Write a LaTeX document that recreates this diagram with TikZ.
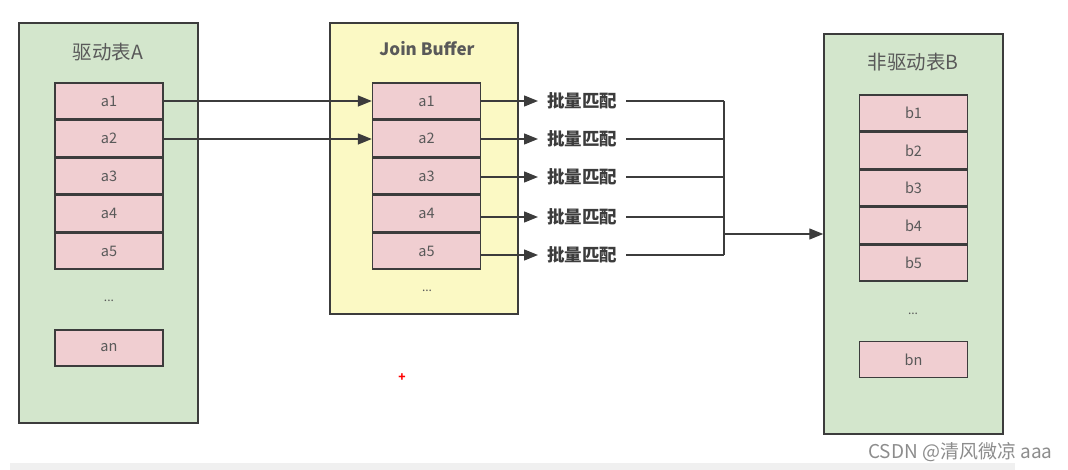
\documentclass[tikz,border=0pt]{standalone}
\usepackage{fontspec}
\setmainfont{Noto Sans CJK SC}
\usepackage{tikz}
\usetikzlibrary{positioning,arrows.meta}

\definecolor{tblgreen}{HTML}{D3E6CC}
\definecolor{bufyellow}{HTML}{FBF9C4}
\definecolor{rowpink}{HTML}{F0CED1}
\definecolor{edge}{HTML}{3C3C3C}
\definecolor{mark}{HTML}{8C8C8C}

\begin{document}
\begin{tikzpicture}[x=1pt, y=-1pt,
      tbl/.style={rectangle, draw=edge, fill=tblgreen, line width=1.5pt, minimum width=179pt, minimum height=400pt},
      buf/.style={rectangle, draw=edge, fill=bufyellow, line width=1.5pt, minimum width=188pt, minimum height=291pt},
      row/.style={rectangle, draw=edge, fill=rowpink, line width=1.4pt, minimum width=108pt, minimum height=36.1pt, font=\fontsize{14.5}{16}\selectfont, text=edge!85},
      title/.style={font=\fontsize{19.5}{22}\selectfont, text=edge!85},
      dots/.style={font=\fontsize{12}{14}\selectfont, text=edge!85},
      match/.style={inner xsep=9pt, font=\fontsize{17.5}{20}\selectfont\bfseries, text=edge},
      link/.style={draw=edge, line width=1.4pt},
      arr/.style={link, -{Triangle[length=14pt, width=11pt]}},
    ]
    \useasboundingbox (0,0) rectangle (1068,470);
    \fill[black!6] (10,463) rectangle (1015,470);

    % Tables
    \node[tbl] (tabA) at (108.5,223) {};
    \node[buf] (jbuf) at (424,168.5) {};
    \node[tbl] (tabB) at (913.5,234) {};

    \node[title] at (108,52) {驱动表A};
    \node[title, font=\fontsize{17}{20}\selectfont\bfseries] at (427,49) {Join Buffer};
    \node[title] at (913,62) {非驱动表B};

    % Rows of A
    \node[row] (a1) at (109,101) {a1};
    \node[row, below=0pt of a1] (a2) {a2};
    \node[row, below=0pt of a2] (a3) {a3};
    \node[row, below=0pt of a3] (a4) {a4};
    \node[row, below=0pt of a4] (a5) {a5};
    \node[dots] at (109,301) {...};
    \node[row] (an) at (109,348) {an};

    % Rows of the buffer
    \node[row] (j1) at (426.5,101) {a1};
    \node[row, below=0pt of j1] (j2) {a2};
    \node[row, below=0pt of j2] (j3) {a3};
    \node[row, below=0pt of j3] (j4) {a4};
    \node[row, below=0pt of j4] (j5) {a5};
    \node[dots] at (427,291) {...};

    % Rows of B
    \node[row] (b1) at (913.5,113) {b1};
    \node[row, below=0pt of b1] (b2) {b2};
    \node[row, below=0pt of b2] (b3) {b3};
    \node[row, below=0pt of b3] (b4) {b4};
    \node[row, below=0pt of b4] (b5) {b5};
    \node[dots] at (913,314) {...};
    \node[row] (bn) at (913.5,359.5) {bn};

    % Matches
    \node[match, anchor=west] (m1) at (538,101) {批量匹配};
    \node[match, anchor=west] (m2) at (538,139) {批量匹配};
    \node[match, anchor=west] (m3) at (538,177) {批量匹配};
    \node[match, anchor=west] (m4) at (538,217) {批量匹配};
    \node[match, anchor=west] (m5) at (538,255) {批量匹配};

    \coordinate (c1) at (724,101);
    \coordinate (c2) at (724,139);
    \coordinate (c3) at (724,177);
    \coordinate (c4) at (724,217);
    \coordinate (c5) at (724,255);
    \coordinate (hub) at (724,234);

    % Arrows
    \draw[arr] (a1.east) -- (j1.west);
    \draw[arr] (a2.east |- m2.west) -- (j2.west |- m2.west);

    \draw[arr] (j1.east) -- (m1.west);
    \draw[arr] (j2.east |- m2.west) -- (m2.west);
    \draw[arr] (j3.east |- m3.west) -- (m3.west);
    \draw[arr] (j4.east |- m4.west) -- (m4.west);
    \draw[arr] (j5.east |- m5.west) -- (m5.west);

    \draw[link] (m1.east) -- (c1);
    \draw[link] (m2.east) -- (c2);
    \draw[link] (m3.east) -- (c3);
    \draw[link] (m4.east) -- (c4);
    \draw[link] (m5.east) -- (c5);
    \draw[link] (c1) -- (c5);
    \draw[arr] (hub) -- (hub -| tabB.west);

    % Marks
    \node[text=red, font=\fontsize{12}{14}\selectfont\bfseries] (cursor) at (402,378) {+};
    \node[text=mark, font=\fontsize{19}{22}\selectfont, anchor=east] (water) at (1056,452) {CSDN @清风微凉 aaa};
  \end{tikzpicture}
\end{document}
